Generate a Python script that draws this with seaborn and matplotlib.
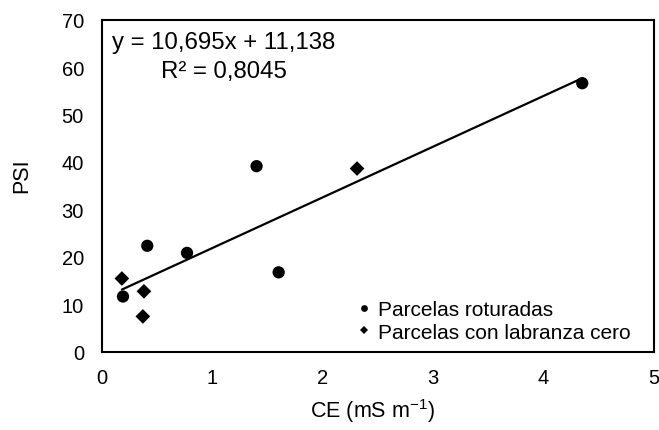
import numpy as np
import pandas as pd
import matplotlib
matplotlib.use("Agg")
import matplotlib.pyplot as plt
import seaborn as sns

# CE (mS m-1) and PSI for each group of plots
ce_roturadas = [0.19, 0.41, 0.77, 1.40, 1.60, 4.35]
psi_roturadas = [11.6, 22.3, 20.8, 39.1, 16.7, 56.6]
ce_labranza = [0.18, 0.38, 0.37, 2.31]
psi_labranza = [15.4, 12.7, 7.4, 38.6]

grupos = ["Parcelas roturadas", "Parcelas con labranza cero"]

# Linear fit reported on the chart
pendiente = 10.695
intercepto = 11.138
r2 = 0.8045

x_ticks = [0, 1, 2, 3, 4, 5]
y_ticks = [0, 10, 20, 30, 40, 50, 60, 70]

sns.set_theme(style="white")
plt.rcParams["font.family"] = ["Liberation Sans", "DejaVu Sans"]
plt.rcParams["mathtext.fontset"] = "custom"
plt.rcParams["mathtext.rm"] = "Liberation Sans"
plt.rcParams["mathtext.it"] = "Liberation Sans:italic"

df = pd.DataFrame({
    "CE": ce_roturadas + ce_labranza,
    "PSI": psi_roturadas + psi_labranza,
    "Grupo": [grupos[0]] * len(ce_roturadas) + [grupos[1]] * len(ce_labranza),
})

fig = plt.figure(figsize=(6.59, 4.31), dpi=100)
ax = fig.add_axes([102 / 659, 1 - 352.5 / 431, 552 / 659, 331.8 / 431])

# Trend line over the observed CE range
x_lin = np.array([df["CE"].min(), df["CE"].max()])
linea = pd.DataFrame({"CE": x_lin, "PSI": pendiente * x_lin + intercepto})
sns.lineplot(data=linea, x="CE", y="PSI", ax=ax, color="black", linewidth=1.6, legend=False)

sns.scatterplot(data=df, x="CE", y="PSI", style="Grupo", hue="Grupo", size="Grupo",
                markers={grupos[0]: "o", grupos[1]: "D"},
                palette={grupos[0]: "black", grupos[1]: "black"},
                sizes={grupos[0]: 78, grupos[1]: 56},
                edgecolor="black", linewidth=0, ax=ax, zorder=3)

ax.set_xlim(0, 5)
ax.set_ylim(0, 70)
ax.set_xticks(x_ticks)
ax.set_yticks(y_ticks)
ax.tick_params(axis="both", length=0, labelsize=14.5, colors="black")
ax.tick_params(axis="x", pad=12)
ax.tick_params(axis="y", pad=13)

for s in ax.spines.values():
    s.set_color("black")
    s.set_linewidth(1.5)

ax.set_xlabel("CE (mS m$^{\\mathregular{-1}}$)", fontsize=15.5, color="black")
ax.set_ylabel("PSI", fontsize=15.5, color="black")
ax.xaxis.set_label_coords(0.49, -0.135)
ax.yaxis.set_label_coords(-0.127, 0.532)

# Equation and R² of the fit
eq = f"y = {pendiente:.3f}x + {intercepto:.3f}".replace(".", ",")
rr = f"R² = {r2:.4f}".replace(".", ",")
ax.text(0.221, 0.915, eq, transform=ax.transAxes, ha="center", va="baseline",
        fontsize=17.3, color="black")
ax.text(0.221, 0.828, rr, transform=ax.transAxes, ha="center", va="baseline",
        fontsize=17.3, color="black")

handles, labels = ax.get_legend_handles_labels()
leg = ax.legend(handles=handles, labels=labels, loc="lower right",
                bbox_to_anchor=(0.957, 0.03), frameon=False, fontsize=15,
                markerscale=0.55, handlelength=0.6, handletextpad=0.35,
                labelspacing=0.15, borderpad=0, borderaxespad=0)
for t in leg.get_texts():
    t.set_color("black")

fig.savefig("out.png", dpi=100)
